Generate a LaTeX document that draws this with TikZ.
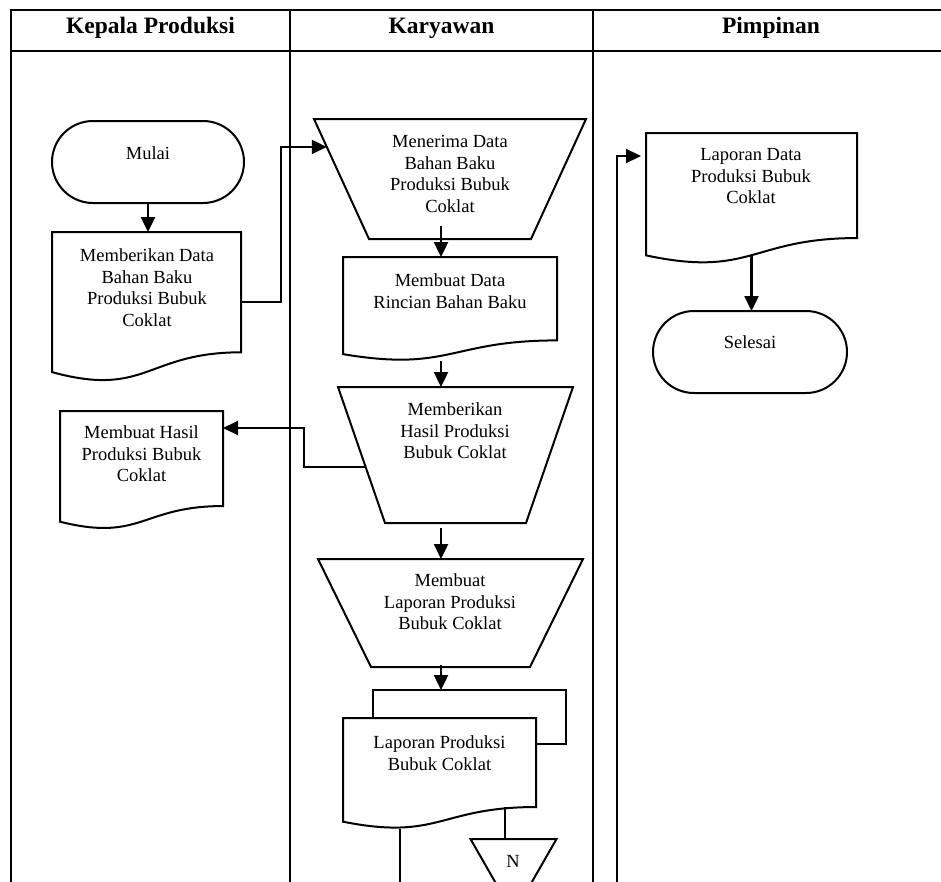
\documentclass[tikz,border=0pt]{standalone}
\usepackage{fontspec}
\setmainfont{Liberation Serif}
\usetikzlibrary{calc,arrows.meta}

\tikzset{
  lane/.style={line width=2.3pt},
  outline/.style={line width=2pt, line join=miter},
  frame/.style={draw=none, inner sep=0pt, outer sep=0pt},
  label/.style={font=\fontsize{18.5}{21.5}\selectfont, align=center, inner sep=0pt, anchor=north},
  head/.style={font=\fontsize{23.5}{28}\selectfont\bfseries, inner sep=0pt, anchor=base},
  tip/.style={-{Triangle[length=15pt,width=14pt]}},
  flow/.style={line width=2.4pt, tip},
  conn/.style={line width=1.8pt},
  connarrow/.style={line width=2pt, tip},
}

% document symbol: flat top, wavy bottom
\newcommand\docpath[1]{%
  \coordinate (#1-rb) at ($(#1.north east)!0.802!(#1.south east)$);
  \coordinate (#1-lb) at ($(#1.north west)!0.934!(#1.south west)$);
  \draw[outline] (#1.north west) -- (#1.north east) -- (#1-rb)
    .. controls ($(#1.north)!0.802!(#1.south)$) and ($(#1.north)!1.107!(#1.south)$) .. (#1-lb) -- cycle;}

% manual operation symbol: trapezoid, wide side on top
\newcommand\trappath[2]{%
  \coordinate (#1-bl) at ([xshift=#2pt]#1.south west);
  \coordinate (#1-br) at ([xshift=-#2pt]#1.south east);
  \draw[outline] (#1.north west) -- (#1.north east) -- (#1-br) -- (#1-bl) -- cycle;}

\begin{document}
\begin{tikzpicture}[x=1pt,y=-1pt]
\useasboundingbox (0,0) rectangle (941,881);
\clip (0,0) rectangle (941,881);
\fill[white] (0,0) rectangle (941,881);

% swimlane table
\draw[lane] (11,900) -- (11,10) -- (960,10);
\draw[lane] (11,51) -- (960,51);
\draw[lane] (290,10) -- (290,900);
\draw[lane] (593,10) -- (593,900);
\node[head] (h1) at (150.5,33) {Kepala Produksi};
\node[head] (h2) at (441.5,33) {Karyawan};
\node[head] (h3) at (771,33) {Pimpinan};

% Kepala Produksi lane
\node[frame, draw, outline, rounded corners=41pt, minimum width=192pt, minimum height=82pt] (start) at (148,162) {};
\node[label] (startT) at (148,146.5) {Mulai};

\node[frame, minimum width=189pt, minimum height=150pt] (memb) at (146.5,307) {};
\docpath{memb}
\node[label] (membT) at (147,248.5) {Memberikan Data\\Bahan Baku\\Produksi Bubuk\\Coklat};

\node[frame, minimum width=163pt, minimum height=118.5pt] (mh) at (141.5,470.25) {};
\docpath{mh}
\node[label] (mhT) at (141.5,425.5) {Membuat Hasil\\Produksi Bubuk\\Coklat};

% Karyawan lane
\node[frame, minimum width=272pt, minimum height=120pt] (ter) at (450,179) {};
\trappath{ter}{55}
\node[label] (terT) at (450,135.5) {Menerima Data\\Bahan Baku\\Produksi Bubuk\\Coklat};

\node[frame, minimum width=214pt, minimum height=104pt] (mdata) at (450,309) {};
\docpath{mdata}
\node[label] (mdataT) at (450,273.5) {Membuat Data\\Rincian Bahan Baku};

\node[frame, minimum width=235pt, minimum height=136pt] (mhasil) at (455.5,455) {};
\trappath{mhasil}{47}
\node[label] (mhasilT) at (455,402.5) {Memberikan\\Hasil Produksi\\Bubuk Coklat};

\node[frame, minimum width=265pt, minimum height=108pt] (mlap) at (450.5,613) {};
\trappath{mlap}{53}
\node[label] (mlapT) at (450,573.5) {Membuat\\Laporan Produksi\\Bubuk Coklat};

\node[frame, minimum width=193pt, minimum height=111pt] (lap) at (439.5,773.5) {};
\coordinate (lapb) at ([xshift=30pt,yshift=28pt]lap.north west);
\coordinate (lapc) at ([xshift=30pt,yshift=-26pt]lap.north east);
\draw[outline] (lapb |- lap.north) -- (lapb) -| (lapc) -- (lapc -| lap.east);
\docpath{lap}
\node[label] (lapT) at (439.5,735.5) {Laporan Produksi\\Bubuk Coklat};

\node[frame, minimum width=86pt, minimum height=75pt] (tri) at (513.5,876.5) {};
\draw[outline] (tri.north west) -- (tri.north east) -- (tri.south) -- cycle;
\node[label] (triT) at (513,855.5) {N};

% Pimpinan lane
\node[frame, minimum width=211pt, minimum height=131pt] (ld) at (751.5,198.5) {};
\docpath{ld}
\node[label] (ldT) at (751,148.5) {Laporan Data\\Produksi Bubuk\\Coklat};

\node[frame, draw, outline, rounded corners=41pt, minimum width=194pt, minimum height=82pt] (fin) at (750,352) {};
\node[label] (finT) at (750,335.5) {Selesai};

% connectors
\coordinate (kx) at (441,0);
\coordinate (ter-l) at ($(ter.north west)!0.233!(ter-bl)$);
\coordinate (mhasil-l) at ($(mhasil.north west)!0.59!(mhasil-bl)$);
\coordinate (trin) at ([xshift=-8.5pt]tri.north);
\coordinate (lapout) at (400,895);
\coordinate (pinEnd) at (617,895);
\coordinate (ldIn) at ([xshift=-5pt,yshift=-23pt]ld.north west);

\draw[flow] (start.south) -- (start.south |- memb.north);
\draw[connarrow] ([yshift=5pt]memb.east) -- ++(40,0) |- (ter-l);
\draw[flow] (kx |- ter.south) ++(0,-13) -- (kx |- mdata.north);
\draw[flow] (kx |- mdata.south) -- (kx |- mhasil.north);
\draw[connarrow] (mhasil-l) -- ++(-62,0) |- ([yshift=-17pt]mh.north east);
\draw[flow] (kx |- mhasil.south) ++(0,5) -- (kx |- mlap.north);
\draw[flow] (kx |- mlap.south) ++(0,-2) -- (kx |- lapb);
\draw[conn] (trin) -- (trin |- lap-rb);
\draw[conn] (lapout |- lap.south) -- (lapout);
\draw[connarrow] (pinEnd) |- (ldIn);
\draw[flow] ($(ld.north)!0.93!(ld.south)$) -- (ld.south |- fin.north);
\end{tikzpicture}
\end{document}
